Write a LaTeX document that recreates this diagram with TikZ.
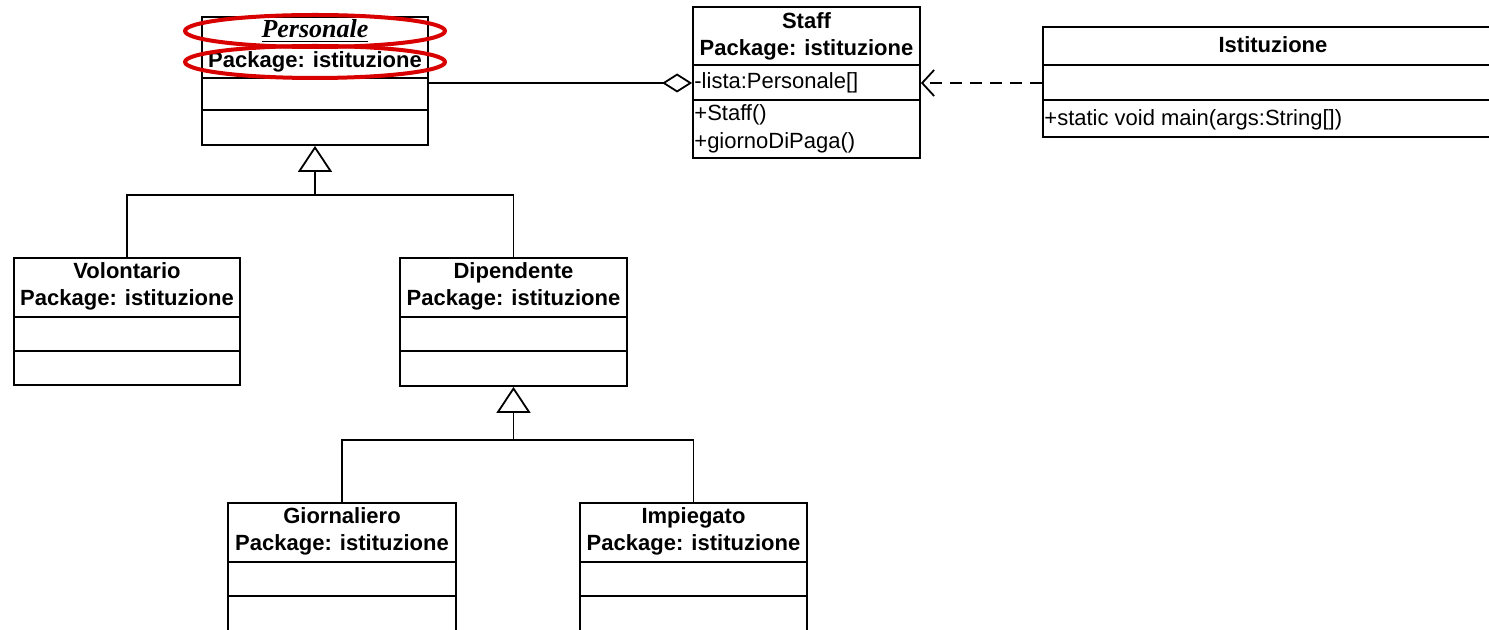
\documentclass[tikz,border=0pt]{standalone}
\usepackage{fontspec}
\setmainfont{Liberation Sans}
\newfontfamily\serifbi{Liberation Serif}
\usetikzlibrary{arrows.meta,fit,calc}
\begin{document}
\begin{tikzpicture}[x=0.5pt,y=-0.5pt,
  clsbox/.style={draw, line width=0.9pt, inner sep=0pt, rectangle},
  comp/.style={line width=0.9pt},
  ttl/.style={inner sep=0pt, font=\fontsize{11}{13.5}\selectfont\bfseries, align=center},
  memb/.style={inner sep=0pt, anchor=west, font=\fontsize{11}{13.5}\selectfont},
  conn/.style={line width=0.9pt},
  gen/.style={conn, -{Triangle[open, length=13pt, width=17pt, line width=0.9pt]}},
  agg/.style={conn, -{Diamond[open, length=15pt, width=9.5pt, line width=0.9pt]}},
  dep/.style={conn, dash pattern=on 6pt off 4pt, -{Straight Barb[length=6pt, width=13pt, line width=0.9pt]}},
  redring/.style={draw=red!85!black, line width=2pt}
]
\useasboundingbox (0,0) rectangle (1489,630);
\clip (0,0) rectangle (1489,630);
\fill[white] (0,0) rectangle (1489,630);

% Personale
\node[clsbox, fit={(202,17) (428,145)}] (pers) {};
\draw[comp] (202,78) -- (428,78);
\draw[comp] (202,110) -- (428,110);
\node[inner sep=0pt, font=\serifbi\fontsize{13}{15}\selectfont\bfseries\itshape] (pers-t) at (315,31) {\underline{Personale}};
\node[ttl] (pers-p) at (315,62) {Package: istituzione};

% Staff
\node[clsbox, fit={(693,7) (920,158)}] (staff) {};
\draw[comp] (693,65) -- (920,65);
\draw[comp] (693,100) -- (920,100);
\node[ttl] (staff-t) at (806.5,36) {Staff\\Package: istituzione};
\node[memb] (lista) at (694,83) {-lista:Personale[]};
\node[memb] (m1) at (694,115) {+Staff()};
\node[memb] (m2) at (694,143) {+giornoDiPaga()};

% Istituzione
\node[clsbox, fit={(1043,27) (1503,137)}] (ist) {};
\draw[comp] (1043,65) -- (1503,65);
\draw[comp] (1043,100) -- (1503,100);
\node[ttl] (ist-t) at (1273,45) {Istituzione};
\node[memb] (ist-m) at (1044,120) {+static void main(args:String[])};

% Volontario
\node[clsbox, fit={(14,258) (240,385)}] (vol) {};
\draw[comp] (14,317) -- (240,317);
\draw[comp] (14,351) -- (240,351);
\node[ttl] (vol-t) at (127,286) {Volontario\\Package: istituzione};

% Dipendente
\node[clsbox, fit={(400,258) (627,386)}] (dip) {};
\draw[comp] (400,317) -- (627,317);
\draw[comp] (400,351) -- (627,351);
\node[ttl] (dip-t) at (513.5,286) {Dipendente\\Package: istituzione};

% Giornaliero
\node[clsbox, fit={(228,503) (456,650)}] (gio) {};
\draw[comp] (228,562) -- (456,562);
\draw[comp] (228,596) -- (456,596);
\node[ttl] (gio-t) at (342,531) {Giornaliero\\Package: istituzione};

% Impiegato
\node[clsbox, fit={(580,503) (807,650)}] (imp) {};
\draw[comp] (580,562) -- (807,562);
\draw[comp] (580,596) -- (807,596);
\node[ttl] (imp-t) at (693.5,531) {Impiegato\\Package: istituzione};

% Generalizations
\coordinate (j1) at (315,195);
\draw[conn] (vol.north) |- (j1);
\draw[conn] (dip.north) |- (j1);
\draw[gen] (j1) -- (pers.south);

\coordinate (j2) at (513.5,440);
\draw[conn] (gio.north) |- (j2);
\draw[conn] (imp.north) |- (j2);
\draw[gen] (j2) -- (dip.south);

% Aggregation
\draw[agg] (pers.east |- lista.west) -- (staff.west |- lista.west);

% Dependency
\draw[dep] (ist.west |- lista.west) -- (staff.east |- lista.west);

% Red highlight ellipses
\draw[redring] (pers-t) ellipse [x radius=130, y radius=16];
\draw[redring] (pers-p) ellipse [x radius=130, y radius=16];
\end{tikzpicture}
\end{document}
